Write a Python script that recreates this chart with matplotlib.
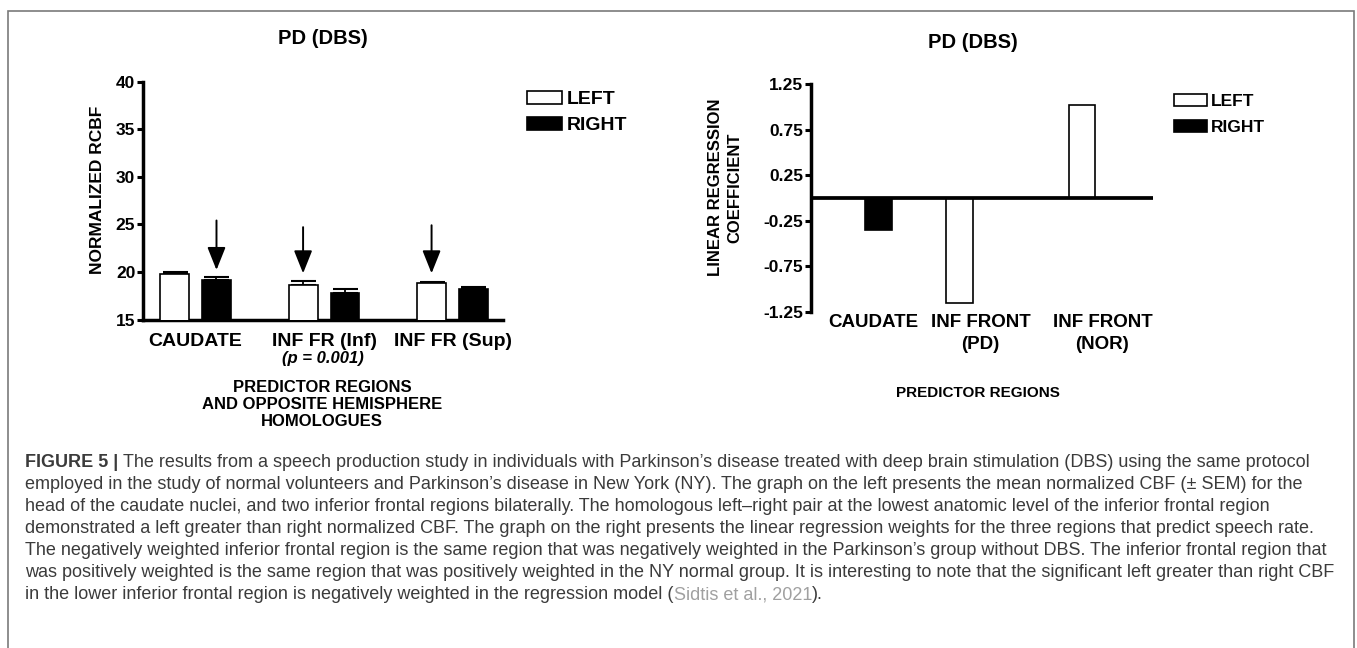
import numpy as np
import matplotlib
matplotlib.use("Agg")
import matplotlib.pyplot as plt
import matplotlib.transforms as mtransforms
from matplotlib.patches import Patch, Rectangle

# canvas size in pixels (dpi 100)
W, H = 1357, 648

INK = '#000000'
CAPTION_INK = '#3b3b3b'
CITE_INK = '#a0a0a0'
FRAME = '#7a7a7a'

plt.rcParams.update(
    {
        "font.family"       : ["Liberation Sans", "DejaVu Sans"],
        "font.weight"       : "bold",
        "axes.unicode_minus": False,
        "axes.linewidth"    : 2.5,
        "axes.edgecolor"    : INK,
        "xtick.color"       : INK,
        "ytick.color"       : INK,
        "text.color"        : INK,
    }
)

# ---- left panel: normalized rCBF, mean + SEM ----
rcbf_regions = ['CAUDATE', 'INF FR (Inf)', 'INF FR (Sup)']
rcbf_left = [19.77, 18.58, 18.79]
rcbf_left_sem = [0.21, 0.42, 0.17]
rcbf_right = [19.20, 17.80, 18.22]
rcbf_right_sem = [0.22, 0.39, 0.21]
rcbf_ticks = [15, 20, 25, 30, 35, 40]

# arrows over the bars: region index, hemisphere, start value, tip value
arrow_region = [0, 1, 2]
arrow_side = ['RIGHT', 'LEFT', 'LEFT']
arrow_from = [25.4, 24.7, 24.9]
arrow_to = [20.2, 19.85, 19.85]

# ---- right panel: linear regression coefficients ----
coef_regions = ['CAUDATE', 'INF FRONT\n(PD)', 'INF FRONT\n(NOR)']
coef_left = [np.nan, -1.15, 1.02]
coef_right = [-0.35, np.nan, np.nan]
coef_ticks = [-1.25, -0.75, -0.25, 0.25, 0.75, 1.25]
coef_tick_labels = ['-1.25', '-0.75', '-0.25', '0.25', '0.75', '1.25']

caption_lines = [
    [("FIGURE 5 | ", "bold", CAPTION_INK),
     ("The results from a speech production study in individuals with Parkinson\u2019s disease treated with "
      "deep brain stimulation (DBS) using the same protocol", "normal", CAPTION_INK)],
    [("employed in the study of normal volunteers and Parkinson\u2019s disease in New York (NY). The graph on "
      "the left presents the mean normalized CBF (\u00b1 SEM) for the", "normal", CAPTION_INK)],
    [("head of the caudate nuclei, and two inferior frontal regions bilaterally. The homologous left\u2013right "
      "pair at the lowest anatomic level of the inferior frontal region", "normal", CAPTION_INK)],
    [("demonstrated a left greater than right normalized CBF. The graph on the right presents the linear "
      "regression weights for the three regions that predict speech rate.", "normal", CAPTION_INK)],
    [("The negatively weighted inferior frontal region is the same region that was negatively weighted in "
      "the Parkinson\u2019s group without DBS. The inferior frontal region that", "normal", CAPTION_INK)],
    [("was positively weighted is the same region that was positively weighted in the NY normal group. It is "
      "interesting to note that the significant left greater than right CBF", "normal", CAPTION_INK)],
    [("in the lower inferior frontal region is negatively weighted in the regression model (", "normal", CAPTION_INK),
     ("Sidtis et al., 2021", "normal", CITE_INK),
     (").", "normal", CAPTION_INK)],
]


def fx(px):
    return px / W


def fy(py):
    return 1 - py / H


def axes_px(fig, x0, y_top, x1, y_bottom):
    return fig.add_axes([fx(x0), fy(y_bottom), fx(x1) - fx(x0), (y_bottom - y_top) / H])


def bar_legend(ax, anchor, size, hlen, hheight, spacing):
    handles = [Patch(facecolor='white', edgecolor=INK, linewidth=1.2, label='LEFT'),
               Patch(facecolor=INK, edgecolor=INK, linewidth=1.2, label='RIGHT')]
    ax.legend(handles=handles, loc='upper left', bbox_to_anchor=anchor,
              bbox_transform=ax.figure.transFigure, frameon=False,
              prop={'size': size, 'weight': 'bold'}, borderpad=0, borderaxespad=0,
              handlelength=hlen, handleheight=hheight, handletextpad=0.25,
              labelspacing=spacing)


fig = plt.figure(figsize=(W / 100, H / 100), dpi=100)

# ---- left panel ----
ax1 = axes_px(fig, 143, 81.5, 503, 319.5)
x = np.arange(len(rcbf_regions))
off, bw = 0.163, 0.225
ax1.bar(x - off, rcbf_left, bw, color='white', edgecolor=INK, linewidth=1.2, zorder=3)
ax1.bar(x + off, rcbf_right, bw, color=INK, edgecolor=INK, linewidth=1.2, zorder=3)
ax1.errorbar(x - off, rcbf_left, yerr=[np.zeros(3), rcbf_left_sem], fmt='none',
             ecolor=INK, elinewidth=1.3, capsize=9, capthick=1.5, zorder=2)
ax1.errorbar(x + off, rcbf_right, yerr=[np.zeros(3), rcbf_right_sem], fmt='none',
             ecolor=INK, elinewidth=1.3, capsize=9, capthick=1.5, zorder=2)
for i, side, y0, y1 in zip(arrow_region, arrow_side, arrow_from, arrow_to):
    xa = i - off if side == 'LEFT' else i + off
    ax1.annotate('', xy=(xa, y1), xytext=(xa, y0),
                 arrowprops=dict(arrowstyle='-|>,head_length=0.7,head_width=0.28',
                                 mutation_scale=20, lw=1.4, color=INK,
                                 shrinkA=0, shrinkB=0))
ax1.set_xlim(-0.409, 2.393)
ax1.set_ylim(15, 40)
ax1.set_yticks(rcbf_ticks)
ax1.set_xticks(x)
ax1.set_xticklabels(rcbf_regions, fontsize=14, fontweight='bold')
ax1.tick_params(axis='y', direction='out', length=4, width=2.2, pad=1.5, labelsize=12.5)
ax1.tick_params(axis='x', length=0, pad=10)
for s in ['top', 'right']:
    ax1.spines[s].set_visible(False)
bar_legend(ax1, (fx(527), fy(91)), 14, 1.8, 0.62, 0.46)

fig.text(fx(323), fy(38), 'PD (DBS)', ha='center', va='center', fontsize=14.5)
fig.text(fx(97), fy(190), 'NORMALIZED RCBF', rotation=90, ha='center', va='center', fontsize=12.5)
fig.text(fx(323), fy(359), '(p = 0.001)', ha='center', va='center', fontsize=12, style='italic')
fig.text(fx(322), fy(404.5), 'PREDICTOR REGIONS\nAND OPPOSITE HEMISPHERE\nHOMOLOGUES',
         ha='center', va='center', fontsize=12, linespacing=1.2)

# ---- right panel ----
ax2 = axes_px(fig, 811, 84, 1153, 311.7)
x = np.arange(len(coef_regions))
off, bw = 0.168, 0.221
ax2.bar(x - off, coef_left, bw, color='white', edgecolor=INK, linewidth=1.2, zorder=3)
ax2.bar(x + off, coef_right, bw, color=INK, edgecolor=INK, linewidth=1.2, zorder=3)
ax2.axhline(0, color=INK, linewidth=2.7, zorder=4)
ax2.set_xlim(-0.389, 2.414)
ax2.set_ylim(-1.25, 1.25)
ax2.set_yticks(coef_ticks)
ax2.set_yticklabels(coef_tick_labels)
ax2.set_xticks(x)
ax2.set_xticklabels(coef_regions, fontsize=13.5, fontweight='bold', linespacing=1.35)
ax2.tick_params(axis='y', direction='out', length=4, width=2.2, pad=1.5, labelsize=12.5)
ax2.tick_params(axis='x', length=0, pad=2)
# caudate label sits a little right of its category in the original
lbl = ax2.get_xticklabels()[0]
lbl.set_transform(lbl.get_transform() + mtransforms.ScaledTranslation(15 / 100, 0, fig.dpi_scale_trans))
for s in ['top', 'right', 'bottom']:
    ax2.spines[s].set_visible(False)
bar_legend(ax2, (fx(1174), fy(94)), 12.5, 1.9, 0.69, 0.64)

fig.text(fx(973), fy(43), 'PD (DBS)', ha='center', va='center', fontsize=14.5)
fig.text(fx(725), fy(187.5), 'LINEAR REGRESSION\nCOEFFICIENT', rotation=90, ha='center',
         va='center', fontsize=12, linespacing=1.35)
fig.text(fx(978), fy(393), 'PREDICTOR REGIONS', ha='center', va='center', fontsize=11)

# ---- frame and caption ----
fig.add_artist(Rectangle((fx(8), fy(700)), fx(1354) - fx(8), (700 - 11) / H,
                         transform=fig.transFigure, fill=False, edgecolor=FRAME,
                         linewidth=1.2, clip_on=False))

renderer = fig.canvas.get_renderer()
for row, runs in enumerate(caption_lines):
    xpos = fx(25)
    ybase = fy(467 + 22 * row)
    for txt, weight, color in runs:
        t = fig.text(xpos, ybase, txt, ha='left', va='baseline', fontsize=13,
                     fontweight=weight, color=color,
                     family=['Liberation Sans', 'DejaVu Sans'])
        xpos += t.get_window_extent(renderer).width / W

fig.savefig('out.png', dpi=100)
